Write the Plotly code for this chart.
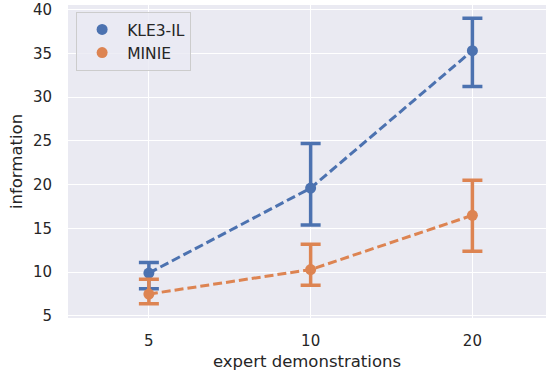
import plotly.graph_objects as go

# Number of expert demonstrations (categorical x)
demos = ["5", "10", "20"]

# Mean information and confidence interval bounds per method
kle3_mean = [9.9, 19.6, 35.3]
kle3_low = [8.1, 15.4, 31.2]
kle3_high = [11.1, 24.7, 39.0]

minie_mean = [7.5, 10.3, 16.5]
minie_low = [6.4, 8.5, 12.4]
minie_high = [9.2, 13.2, 20.5]

series = [
    ("KLE3-IL", kle3_mean, kle3_low, kle3_high, "#4C72B0"),
    ("MINIE", minie_mean, minie_low, minie_high, "#DD8452"),
]

xpos = list(range(len(demos)))
fig = go.Figure()

for name, mean, low, high, color in series:
    # dashed connecting line
    fig.add_trace(go.Scatter(
        x=xpos, y=mean, mode="lines", showlegend=False, hoverinfo="skip",
        line=dict(color=color, width=3, dash="9px,4px"),
    ))
for name, mean, low, high, color in series:
    # point estimates with CI error bars
    fig.add_trace(go.Scatter(
        x=xpos, y=mean, mode="markers", name=name,
        marker=dict(color=color, size=11),
        error_y=dict(
            type="data", symmetric=False,
            array=[h - m for h, m in zip(high, mean)],
            arrayminus=[m - l for m, l in zip(mean, low)],
            color=color, thickness=3.5, width=10,
        ),
    ))

font_family = "DejaVu Sans"
fig.update_layout(
    width=546, height=375,
    margin=dict(l=68, r=0, t=5, b=57),
    paper_bgcolor="white",
    plot_bgcolor="#EAEAF2",
    font=dict(family=font_family, size=15, color="#262626"),
    legend=dict(
        x=0.017, y=0.978, xanchor="left", yanchor="top",
        bgcolor="rgba(234,234,242,0.8)",
        bordercolor="#CCCCCC", borderwidth=1,
        font=dict(size=15.5, color="#262626"),
        itemwidth=40,
    ),
    xaxis=dict(
        range=[-0.5, 2.455],
        tickmode="array", tickvals=xpos, ticktext=demos,
        showgrid=True, gridcolor="white", gridwidth=1.3,
        zeroline=False, showline=False,
        ticks="outside", ticklen=9, tickcolor="rgba(0,0,0,0)",
        tickfont=dict(size=15),
        title=dict(text="expert demonstrations", font=dict(size=16.5), standoff=6),
    ),
    yaxis=dict(
        range=[4.77, 40.51],
        tickmode="array", tickvals=[5, 10, 15, 20, 25, 30, 35, 40],
        showgrid=True, gridcolor="white", gridwidth=1.3,
        zeroline=False, showline=False,
        ticks="outside", ticklen=12, tickcolor="rgba(0,0,0,0)",
        tickfont=dict(size=15),
        title=dict(text="information", font=dict(size=16.5), standoff=6),
    ),
)

fig.write_html("out.html")
